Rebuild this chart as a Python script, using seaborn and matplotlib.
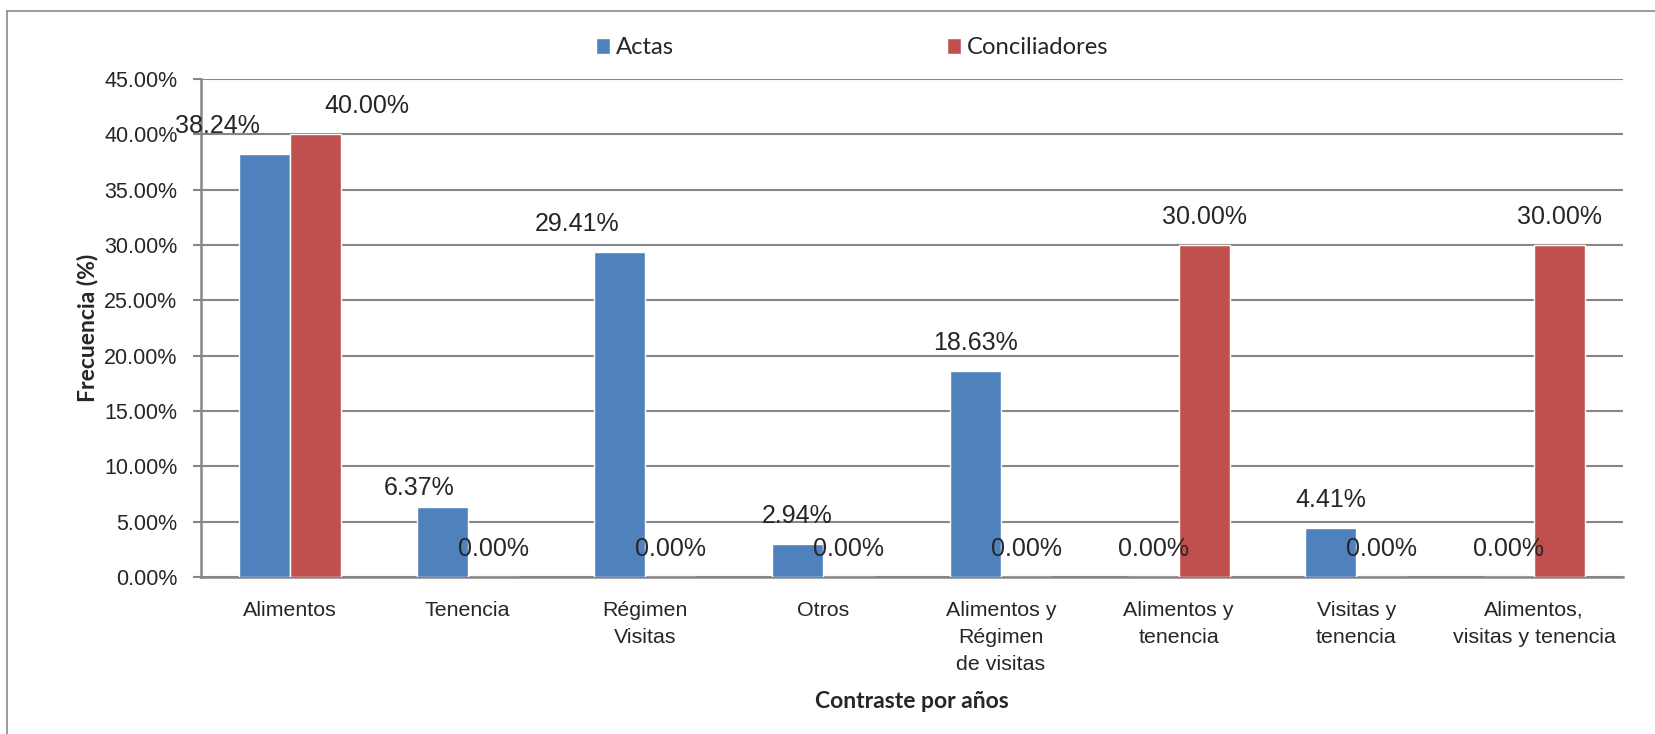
import pandas as pd
import numpy as np
import matplotlib
matplotlib.use("Agg")
import matplotlib.pyplot as plt
from matplotlib.lines import Line2D
import seaborn as sns

categorias = ["Alimentos", "Tenencia", "Régimen\nVisitas", "Otros",
              "Alimentos y\nRégimen\nde visitas", "Alimentos y\ntenencia",
              "Visitas y\ntenencia", "Alimentos,\nvisitas y tenencia"]
actas = [38.24, 6.37, 29.41, 2.94, 18.63, 0.00, 4.41, 0.00]
conciliadores = [40.00, 0.00, 0.00, 0.00, 0.00, 30.00, 0.00, 30.00]
series = ["Actas", "Conciliadores"]
yticks = [0, 5, 10, 15, 20, 25, 30, 35, 40, 45]

df = pd.DataFrame({
    "categoria": categorias * 2,
    "valor": actas + conciliadores,
    "serie": [series[0]] * len(actas) + [series[1]] * len(conciliadores),
})

sns.set_style("white")
narrow = ["Liberation Sans", "DejaVu Sans"]
calib = ["Lato", "DejaVu Sans"]
gris = "#868686"

fig = plt.figure(figsize=(16.56, 7.34), dpi=100)
ax = fig.add_axes([201 / 1656, 1 - 577 / 734, 1422 / 1656, 498 / 734])

sns.barplot(data=df, x="categoria", y="valor", hue="serie",
            palette=["#4F81BD", "#C0504D"], width=0.575, saturation=1,
            ax=ax, zorder=3)

ax.set_ylim(0, 45)
ax.set_yticks(yticks)
ax.set_yticklabels([f"{v:.2f}%" for v in yticks], family=narrow, fontsize=15.5)
ax.set_xticks(range(len(categorias)))
ax.set_xticklabels(categorias, family=narrow, fontsize=15.4, linespacing=1.55)
ax.tick_params(axis="x", length=0, pad=17)
ax.tick_params(axis="y", length=6, width=1.5, color=gris, pad=11, left=True)

ax.grid(axis="y", color=gris, lw=1.5)
ax.set_axisbelow(True)
for s in ["top", "right"]:
    ax.spines[s].set_visible(False)
for s in ["left", "bottom"]:
    ax.spines[s].set_color(gris)
    ax.spines[s].set_linewidth(1.8)

# etiquetas de datos (algunas movidas a mano como en el original)
nudge = {(0, 0): (-47, 0), (0, 1): (51, 0), (1, 0): (-23, -9), (2, 0): (-43, 0)}
for si, cont in enumerate(ax.containers):
    for ci, bar in enumerate(cont):
        h = bar.get_height()
        dx, dy = nudge.get((ci, si), (0, 0))
        ax.annotate(f"{h:.2f}%", (bar.get_x() + bar.get_width() / 2, h),
                    xytext=(dx, 28 + dy), textcoords="offset pixels",
                    ha="center", va="center", family=narrow, fontsize=18,
                    zorder=5)

ax.set_xlabel("Contraste por años", family=calib, fontsize=16.5,
              fontweight="bold")
ax.xaxis.set_label_coords(0.5, -(702 - 577) / 498)
ax.xaxis.label.set_va("center")
ax.set_ylabel("Frecuencia (%)", family=calib, fontsize=16.5, fontweight="bold")
ax.yaxis.set_label_coords((88 - 201) / 1422, 0.5)
ax.yaxis.label.set_va("center")

handles, labels = ax.get_legend_handles_labels()
ax.legend(handles, labels, ncol=2, frameon=False, loc="center left",
          bbox_to_anchor=(596 / 1656, 1 - 48 / 734), bbox_transform=fig.transFigure,
          borderpad=0, borderaxespad=0, handlelength=0.6, handleheight=0.6,
          handletextpad=0.22, columnspacing=11.45,
          prop={"family": calib, "size": 17.2})

# marco del gráfico
fig.add_artist(Line2D([7 / 1656, 7 / 1656], [0, 1 - 11 / 734],
                      transform=fig.transFigure, color="#8a8a8a", lw=1.2))
fig.add_artist(Line2D([7 / 1656, 1], [1 - 11 / 734, 1 - 11 / 734],
                      transform=fig.transFigure, color="#8a8a8a", lw=1.2))

fig.savefig("out.png", dpi=100)
